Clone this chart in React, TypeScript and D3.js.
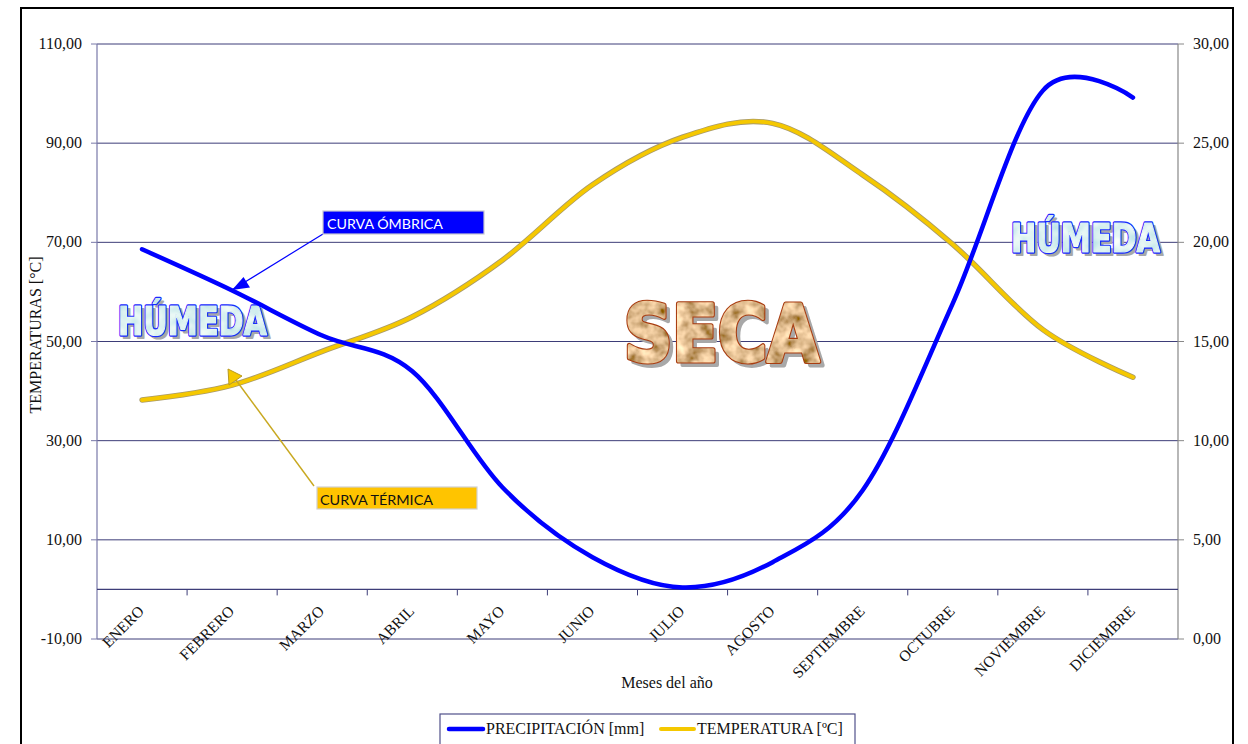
import React from 'react';
import * as d3 from 'd3';

const months = ['ENERO', 'FEBRERO', 'MARZO', 'ABRIL', 'MAYO', 'JUNIO', 'JULIO', 'AGOSTO', 'SEPTIEMBRE', 'OCTUBRE', 'NOVIEMBRE', 'DICIEMBRE'];
const precipitacion = [68.6, 60.3, 51.2, 44.0, 20.6, 6.5, 0.4, 5.5, 20.0, 57.7, 100.6, 99.2];
const temperatura = [12.05, 12.8, 14.5, 16.25, 19.1, 22.9, 25.3, 26.0, 23.4, 19.9, 15.6, 13.2];
const leftTicks = [-10, 10, 30, 50, 70, 90, 110];
const rightTicks = [0, 5, 10, 15, 20, 25, 30];

const W = 1248;
const H = 744;
const plot = { left: 97, right: 1178, top: 44, bottom: 639 };

const serif = '"Liberation Serif", "Times New Roman", serif';
const callout = 'Lato, "Open Sans", sans-serif';
const fmt = (v: number) => v.toFixed(2).replace('.', ',');

// letras con sombra, relleno con textura y contorno
function FancyWord({ text, x, y, size, len, stroke, filter, shadow, weight }: any) {
  const common = {
    x, y, fontSize: size, textLength: len, lengthAdjust: 'spacingAndGlyphs',
    fontFamily: '"DejaVu Sans Condensed", "Liberation Sans Narrow", "Liberation Sans", sans-serif',
    fontWeight: 'bold', strokeLinejoin: 'round',
  } as any;
  return (
    <g>
      <text {...common} x={x + shadow} y={y + shadow} fill="#a8a8a8" stroke="#a8a8a8" strokeWidth={weight + 1}>{text}</text>
      <text {...common} fill={stroke} stroke={stroke} strokeWidth={weight + 2.2}>{text}</text>
      <text {...common} fill="#000" stroke="#000" strokeWidth={weight} filter={filter}>{text}</text>
    </g>
  );
}

export default function App() {
  const x = d3.scaleBand<string>().domain(months).range([plot.left, plot.right]);
  const cx = (m: string) => (x(m) as number) + x.bandwidth() / 2;
  const yL = d3.scaleLinear().domain([-10, 110]).range([plot.bottom, plot.top]);
  const yR = d3.scaleLinear().domain([0, 30]).range([plot.bottom, plot.top]);
  const axisY = yL(0);

  const curve = d3.curveCardinal.tension(0);
  const precLine = d3.line<number>().x((_, i) => cx(months[i])).y(d => yL(d)).curve(curve)(precipitacion) as string;
  const tempLine = d3.line<number>().x((_, i) => cx(months[i])).y(d => yR(d)).curve(curve)(temperatura) as string;

  const gridColor = '#3d3d78';

  return (
    <div style={{ position: 'absolute', left: 0, top: 0 }}>
      <svg width={W} height={H} style={{ display: 'block', background: '#fff' }}>
        <defs>
          <filter id="tierra" x="-5%" y="-5%" width="110%" height="110%">
            <feTurbulence type="fractalNoise" baseFrequency="0.07" numOctaves={3} seed={7} result="n" />
            <feColorMatrix in="n" type="matrix"
              values="1.5 0 0 0 0.0  1.25 0 0 0 -0.12  0.95 0 0 0 -0.2  0 0 0 0 1" result="c" />
            <feComposite in="c" in2="SourceAlpha" operator="in" />
          </filter>
          <filter id="agua" x="-5%" y="-5%" width="110%" height="110%">
            <feTurbulence type="fractalNoise" baseFrequency="0.08" numOctaves={2} seed={3} result="n" />
            <feColorMatrix in="n" type="matrix"
              values="0.6 0 0 0 0.42  0.3 0 0 0 0.74  0.2 0 0 0 0.78  0 0 0 0 1" result="c" />
            <feComposite in="c" in2="SourceAlpha" operator="in" />
          </filter>
        </defs>

        {/* marco exterior */}
        <rect x={21} y={8} width={1212} height={760} fill="none" stroke="#000" strokeWidth={2} />

        {/* rejilla horizontal */}
        {leftTicks.map(t => (
          <line key={t} x1={plot.left} x2={plot.right} y1={yL(t)} y2={yL(t)} stroke={gridColor} strokeWidth={1} />
        ))}
        <line x1={plot.left} x2={plot.left} y1={plot.top} y2={plot.bottom} stroke="#7878a8" strokeWidth={1.2} />
        <line x1={plot.right} x2={plot.right} y1={plot.top} y2={plot.bottom} stroke="#888" strokeWidth={1.2} />

        {/* eje izquierdo */}
        {leftTicks.map(t => (
          <g key={'l' + t}>
            <line x1={plot.left - 6} x2={plot.left} y1={yL(t)} y2={yL(t)} stroke="#7878a8" />
            <text x={82} y={yL(t) + 5} textAnchor="end" fontFamily={serif} fontSize={16} fill="#111">{fmt(t)}</text>
          </g>
        ))}
        {/* eje derecho */}
        {rightTicks.map(t => (
          <g key={'r' + t}>
            <line x1={plot.right} x2={plot.right + 6} y1={yR(t)} y2={yR(t)} stroke="#888" />
            <text x={1193} y={yR(t) + 5} textAnchor="start" fontFamily={serif} fontSize={16} fill="#111">{fmt(t)}</text>
          </g>
        ))}

        {/* eje de categorías */}
        <line x1={plot.left} x2={plot.right} y1={axisY} y2={axisY} stroke={gridColor} strokeWidth={1.2} />
        {months.slice(1).map(m => (
          <line key={'t' + m} x1={x(m)} x2={x(m)} y1={axisY} y2={axisY + 6} stroke={gridColor} />
        ))}
        {months.map(m => (
          <text key={m} transform={`translate(${cx(m) + 3},${612}) rotate(-45)`} textAnchor="end"
            fontFamily={serif} fontSize={15.5} fill="#111">{m}</text>
        ))}

        <text x={667} y={688} textAnchor="middle" fontFamily={serif} fontSize={16} fill="#111">Meses del año</text>
        <text transform={`translate(41,${335}) rotate(-90)`} textAnchor="middle" fontFamily={serif} fontSize={16} fill="#111">TEMPERATURAS [°C]</text>

        {/* palabras decorativas */}
        <FancyWord text="HÚMEDA" x={118} y={335} size={39} len={149} stroke="#1a2cff" filter="url(#agua)" shadow={3} weight={1.2} />
        <FancyWord text="HÚMEDA" x={1011} y={252} size={39} len={149} stroke="#1a2cff" filter="url(#agua)" shadow={3} weight={1.2} />
        <FancyWord text="SECA" x={624} y={361} size={79} len={195} stroke="#a83c10" filter="url(#tierra)" shadow={4} weight={3} />

        {/* series */}
        <path d={tempLine} fill="none" stroke="#a89a6a" strokeWidth={5.5} strokeLinecap="round" />
        <path d={tempLine} fill="none" stroke="#f5c800" strokeWidth={3.8} strokeLinecap="round" />
        <path d={precLine} fill="none" stroke="#0000ff" strokeWidth={4.5} strokeLinecap="round" />

        {/* anotación curva ómbrica */}
        <line x1={323} y1={234} x2={232} y2={290} stroke="#0000ff" strokeWidth={1.2} />
        <path d="M232,290 L250,287.5 L243.5,277 Z" fill="#0000ff" />
        <rect x={323} y={211} width={161} height={23} fill="#0000ff" stroke="#c8c8d0" strokeWidth={1.2} />
        <text x={327} y={229} fontFamily={callout} fontSize={14} fill="#fff" textLength={116} lengthAdjust="spacingAndGlyphs">CURVA ÓMBRICA</text>

        {/* anotación curva térmica */}
        <line x1={314} y1={486} x2={233} y2={376} stroke="#c8a820" strokeWidth={1.4} />
        <path d="M228,369 L229,385 L242,376 Z" fill="#f5c800" stroke="#b89a20" strokeWidth={1} />
        <rect x={317} y={487} width={160} height={22} fill="#ffc400" stroke="#d0d0d0" strokeWidth={1.2} />
        <text x={320} y={505} fontFamily={callout} fontSize={14} fill="#111" textLength={113} lengthAdjust="spacingAndGlyphs">CURVA TÉRMICA</text>

        {/* leyenda */}
        <rect x={440} y={714} width={415} height={40} fill="#fff" stroke="#50508a" strokeWidth={1.2} />
        <line x1={449} x2={483} y1={729} y2={729} stroke="#0000ff" strokeWidth={4.5} strokeLinecap="round" />
        <text x={486} y={734} fontFamily={serif} fontSize={16} fill="#111">PRECIPITACIÓN [mm]</text>
        <line x1={661} x2={694} y1={729} y2={729} stroke="#f5c800" strokeWidth={4} strokeLinecap="round" />
        <text x={697} y={734} fontFamily={serif} fontSize={16} fill="#111">TEMPERATURA [ºC]</text>
      </svg>
    </div>
  );
}
